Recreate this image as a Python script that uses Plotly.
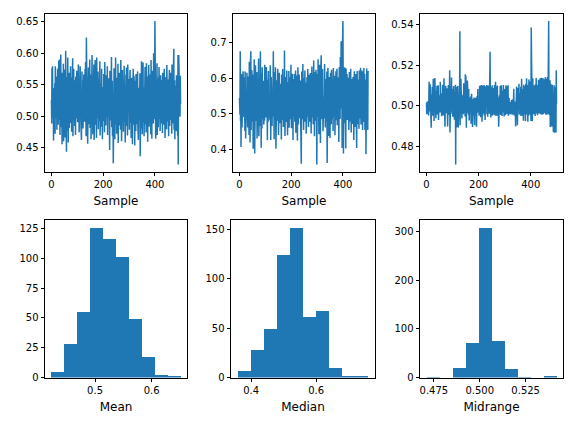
import numpy as np
import plotly.graph_objects as go

# ---- data ----
# sample means, in thousandths
mean_series = [
525, 488, 576, 502, 579, 531, 496, 544, 461, 529, 503, 538, 487, 552, 472, 579, 518, 497, 541, 509,
563, 478, 530, 517, 575, 503, 486, 549, 588, 512, 494, 590, 533, 470, 556, 521, 598, 482, 545, 508,
527, 455, 569, 514, 537, 492, 583, 460, 528, 551, 503, 574, 466, 540, 519, 604, 488, 531, 443, 562,
510, 546, 477, 593, 505, 458, 538, 521, 569, 481, 527, 498, 552, 516, 579, 489, 534, 561, 475, 522,
547, 501, 592, 468, 536, 513, 575, 493, 529, 557, 484, 519, 548, 470, 563, 507, 531, 496, 572, 515,
538, 490, 553, 526, 582, 506, 542, 474, 520, 561, 497, 579, 509, 533, 486, 547, 462, 528, 571, 504,
523, 557, 480, 539, 501, 566, 517, 548, 491, 532, 575, 499, 586, 512, 468, 625, 495, 542, 519, 561,
456, 534, 503, 577, 487, 526, 552, 510, 590, 481, 539, 517, 566, 463, 529, 545, 494, 597, 508, 523,
471, 553, 535, 499, 582, 462, 518, 544, 503, 589, 486, 531, 557, 514, 465, 593, 522, 497, 548, 511,
571, 479, 536, 504, 560, 492, 527, 587, 469, 541, 515, 550, 483, 532, 575, 500, 521, 463, 546, 509,
538, 492, 567, 517, 531, 474, 586, 506, 529, 548, 485, 520, 565, 497, 541, 512, 579, 470, 533, 551,
499, 524, 560, 488, 538, 446, 572, 513, 493, 545, 507, 534, 594, 482, 519, 556, 468, 537, 502, 425,
548, 515, 576, 490, 529, 463, 554, 508, 593, 486, 521, 543, 472, 561, 511, 535, 496, 583, 457, 526,
541, 503, 569, 485, 530, 514, 552, 478, 589, 509, 534, 460, 547, 522, 573, 496, 515, 556, 475, 538,
502, 580, 491, 527, 549, 458, 533, 518, 566, 484, 577, 506, 525, 546, 469, 582, 511, 537, 495, 559,
520, 478, 543, 507, 573, 489, 532, 551, 465, 528, 561, 500, 539, 455, 548, 517, 575, 486, 524, 564,
497, 533, 453, 556, 512, 541, 476, 567, 504, 529, 487, 552, 519, 571, 483, 536, 462, 545, 509, 558,
493, 527, 568, 436, 531, 514, 550, 480, 587, 502, 539, 471, 562, 518, 585, 490, 526, 545, 468, 533,
555, 508, 578, 487, 521, 548, 474, 584, 511, 536, 495, 563, 459, 529, 543, 506, 581, 483, 538, 517,
566, 492, 524, 551, 471, 589, 513, 535, 464, 572, 502, 541, 526, 559, 488, 600, 517, 547, 495, 575,
651, 510, 573, 464, 533, 556, 491, 528, 584, 470, 545, 519, 561, 482, 537, 507, 578, 495, 522, 550,
476, 531, 565, 503, 540, 488, 557, 514, 529, 473, 569, 498, 535, 520, 552, 486, 575, 509, 543, 465,
530, 549, 496, 562, 518, 479, 581, 505, 537, 491, 558, 512, 527, 468, 546, 500, 573, 484, 534, 517,
555, 494, 569, 510, 531, 472, 582, 506, 541, 524, 488, 560, 499, 607, 478, 536, 557, 463, 527, 548,
503, 539, 476, 565, 514, 530, 491, 552, 469, 597, 423, 521, 597, 486, 555, 512, 533, 499, 564, 519,
]

# sample medians, in thousandths
median_series = [
545, 632, 498, 676, 481, 530, 407, 562, 612, 510, 462, 543, 527, 489, 620, 534, 556, 491, 603, 503,
575, 452, 619, 529, 431, 542, 488, 560, 503, 616, 534, 497, 462, 587, 521, 605, 519, 441, 647, 498,
537, 420, 635, 508, 676, 455, 528, 493, 623, 533, 546, 479, 546, 402, 611, 510, 485, 654, 521, 389,
516, 469, 637, 531, 600, 541, 480, 618, 431, 548, 512, 483, 604, 506, 656, 437, 529, 510, 596, 466,
541, 676, 492, 530, 405, 614, 528, 459, 631, 502, 547, 486, 593, 538, 470, 522, 517, 481, 638, 528,
491, 611, 549, 490, 632, 527, 545, 518, 426, 596, 537, 478, 621, 500, 559, 522, 504, 544, 482, 637,
515, 427, 538, 604, 497, 551, 466, 526, 589, 512, 540, 676, 493, 534, 429, 618, 521, 547, 486, 631,
503, 402, 562, 523, 595, 481, 537, 516, 627, 498, 543, 441, 553, 507, 616, 529, 474, 552, 520, 585,
495, 536, 428, 611, 518, 547, 484, 626, 509, 541, 463, 527, 579, 500, 678, 514, 438, 539, 604, 492,
531, 554, 477, 622, 509, 546, 440, 537, 589, 516, 498, 621, 461, 542, 527, 603, 485, 551, 519, 638,
506, 460, 542, 523, 613, 489, 535, 427, 598, 514, 547, 493, 612, 530, 478, 541, 506, 622, 447, 533,
551, 498, 608, 520, 425, 538, 631, 507, 470, 545, 526, 611, 488, 532, 517, 594, 409, 538, 501, 360,
547, 619, 503, 529, 485, 640, 512, 543, 455, 601, 527, 498, 546, 622, 478, 532, 517, 588, 444, 539,
512, 603, 531, 492, 626, 521, 545, 463, 537, 610, 508, 549, 478, 522, 615, 497, 538, 445, 557, 519,
633, 490, 541, 526, 612, 471, 533, 650, 504, 546, 437, 529, 618, 513, 548, 481, 624, 509, 536, 358,
546, 612, 492, 530, 654, 511, 539, 443, 562, 520, 638, 497, 544, 418, 609, 528, 665, 485, 535, 517,
503, 626, 539, 451, 612, 522, 548, 488, 531, 640, 507, 543, 462, 598, 526, 515, 479, 553, 619, 362,
534, 493, 630, 518, 545, 438, 526, 604, 510, 547, 432, 532, 616, 499, 541, 471, 624, 519, 552, 486,
537, 589, 452, 629, 514, 546, 493, 531, 607, 440, 528, 549, 501, 620, 482, 539, 515, 627, 468, 543,
524, 603, 497, 552, 421, 538, 632, 510, 546, 486, 660, 529, 515, 702, 489, 703, 536, 404, 681, 545,
761, 522, 389, 548, 631, 498, 534, 474, 630, 517, 541, 403, 628, 526, 492, 549, 612, 483, 531, 520,
602, 487, 539, 455, 523, 618, 509, 546, 479, 535, 627, 501, 448, 542, 514, 598, 472, 533, 516, 604,
492, 538, 427, 551, 620, 507, 531, 463, 548, 519, 612, 486, 536, 404, 542, 621, 510, 528, 471, 597,
519, 545, 458, 622, 503, 536, 487, 551, 630, 512, 470, 541, 527, 622, 494, 538, 455, 619, 523, 506,
548, 629, 477, 533, 612, 455, 540, 515, 597, 387, 546, 502, 628, 474, 533, 519, 455, 620, 530, 617,
]

# sample midranges, in ten-thousandths
midrange_series = [
5012, 4958, 5020, 5003, 4962, 5021, 4998, 5017, 4952, 5031, 5118, 4971, 5046, 5012, 5106, 4987, 5025, 4963, 4891, 5054,
5008, 4976, 5094, 5013, 4951, 5037, 5133, 4992, 5021, 4925, 5064, 5003, 5137, 4968, 5029, 5011, 4938, 5072, 5016, 4990,
5098, 5024, 4957, 5041, 5002, 5101, 4929, 5034, 5010, 4982, 5052, 5007, 4967, 5118, 5025, 4994, 5043, 5009, 4948, 5061,
5016, 4985, 5103, 5028, 4952, 5039, 5005, 5136, 4978, 5021, 5003, 4896, 5055, 5011, 5098, 4963, 5030, 5014, 4990, 5086,
5022, 4897, 5047, 5008, 5102, 4982, 5033, 4955, 5019, 5175, 4868, 5041, 5009, 5096, 4959, 5027, 5139, 4972, 5038, 5001,
5083, 4946, 5021, 5005, 5097, 4983, 5031, 4931, 5013, 5062, 4978, 5104, 4710, 5092, 4993, 5025, 4892, 5039, 5008, 5097,
4958, 5024, 4893, 5066, 5006, 4952, 5098, 5013, 5368, 4903, 5036, 4995, 5133, 4960, 5018, 5102, 4937, 5049, 5010, 4981,
5054, 4958, 5029, 5111, 4963, 5026, 5002, 5092, 4947, 5155, 4985, 5148, 5021, 4891, 5067, 5009, 4966, 5125, 5014, 4992,
5036, 4955, 5083, 5007, 4927, 5041, 5012, 4962, 5029, 4996, 5046, 4911, 5018, 5059, 4987, 5024, 5004, 4895, 5033, 4999,
5017, 4951, 5041, 4998, 5026, 4904, 5015, 4957, 5039, 5003, 4973, 5022, 4896, 5011, 5047, 4965, 5008, 5083, 4969, 5026,
5001, 5082, 4951, 5023, 5099, 4969, 5013, 5036, 4943, 5101, 4988, 5027, 5102, 4921, 5045, 5008, 4960, 5099, 5017, 4979,
5034, 5102, 4952, 5019, 5063, 4930, 5010, 5096, 4969, 5036, 4993, 5102, 4958, 5021, 5081, 4945, 5012, 5100, 4978, 5039,
5006, 4961, 5101, 5023, 5267, 4987, 5019, 4942, 5048, 5093, 4975, 5016, 5101, 4952, 5033, 4994, 5087, 4961, 5024, 5007,
4953, 5102, 5011, 4972, 5036, 5118, 4950, 5027, 5095, 4988, 5012, 4951, 5100, 5019, 4966, 5042, 5004, 4896, 5027, 4992,
5051, 5012, 4961, 5099, 5023, 4954, 5016, 5101, 4982, 5033, 4949, 5074, 5006, 4967, 5029, 5102, 4985, 5013, 4947, 5038,
5083, 4998, 5021, 4953, 5009, 5101, 4978, 5030, 4959, 5017, 5096, 4972, 5006, 5101, 4951, 5023, 4992, 5039, 4961, 5011,
5001, 4957, 5018, 4973, 5013, 4960, 5029, 4991, 5011, 4955, 5017, 4979, 5032, 4962, 5008, 5084, 4952, 5016, 4996, 5021,
4970, 5005, 4897, 5031, 4958, 5012, 5095, 4963, 5023, 4904, 5009, 5087, 4951, 5027, 4981, 5108, 4957, 5016, 5062, 4988,
5038, 4951, 5094, 5004, 4968, 5133, 5012, 4949, 5029, 5082, 4971, 5018, 4926, 5103, 5006, 4958, 5097, 5021, 4983, 5035,
4924, 5108, 5013, 4957, 5136, 5003, 5088, 4965, 5027, 4921, 5102, 5014, 4950, 5130, 5034, 4978, 5099, 5009, 4957, 5121,
5016, 4925, 5386, 5043, 4989, 5103, 4923, 5018, 5136, 4991, 5044, 4958, 5101, 5012, 4973, 5095, 5029, 4949, 5106, 5003,
4961, 5137, 5019, 4972, 5102, 5031, 4953, 5094, 5006, 4989, 5128, 4962, 5027, 5101, 4979, 5040, 5136, 4958, 5012, 5093,
4972, 5138, 5015, 4955, 5101, 5030, 4986, 5137, 4958, 5022, 5106, 4971, 5045, 5131, 4964, 5018, 5140, 4957, 5029, 5098,
4955, 5133, 5013, 4968, 5142, 5001, 4957, 5093, 5121, 5418, 4959, 5103, 5016, 4953, 5126, 4895, 5033, 5108, 4962, 5019,
5093, 4897, 5012, 5104, 4958, 5027, 5087, 4870, 5016, 4952, 5101, 4866, 5023, 4957, 5091, 4994, 5013, 4868, 5175, 5010,
]

# histogram counts (10 bins each), read from the bottom row
mean_counts = [5, 28, 55, 126, 116, 101, 49, 17, 2, 1]
median_counts = [7, 28, 49, 124, 152, 61, 67, 10, 1, 1]
midrange_counts = [1, 0, 20, 72, 309, 76, 18, 1, 0, 3]

x_labels = ["Mean", "Median", "Midrange"]
top_label = "Sample"

series = [np.array(mean_series) / 1000.0,
          np.array(median_series) / 1000.0,
          np.array(midrange_series) / 10000.0]
counts = [mean_counts, median_counts, midrange_counts]

# ---- layout helpers ----
# the page body has an 8px margin on every side; keep the whole page 576x432
OFF = 8
W, H = 576 - 2 * OFF, 432 - 2 * OFF
BLUE = "#1f77b4"

# axes boxes in window pixels
top_x_px = [(45, 187), (233, 375), (420, 563)]
bot_x_px = [(45, 187), (231, 375), (420, 563)]
top_y_px = (14, 174)
bot_y_px = (223, 383)

top_ydtick = [0.05, 0.1, 0.02]
top_yfmt = [".2f", ".1f", ".2f"]
bot_xdtick = [0.1, 0.2, 0.025]
bot_xfmt = [".1f", ".1f", ".3f"]
bot_ydtick = [25, 50, 100]


def xdom(px):
    return [(px[0] - OFF) / W, (px[1] - OFF) / W]


def ydom(px):
    return [1 - (px[1] - OFF) / H, 1 - (px[0] - OFF) / H]


def pad(lo, hi, f=0.05):
    s = hi - lo
    return [lo - f * s, hi + f * s]


axis_common = dict(
    showline=True, mirror=True, linecolor="black", linewidth=1,
    ticks="outside", ticklen=3.5, tickwidth=1, tickcolor="black",
    showgrid=False, zeroline=False,
    tickfont=dict(family="DejaVu Sans", size=10, color="black"),
)
title_font = dict(family="DejaVu Sans", size=12, color="black")

fig = go.Figure()
layout = {}

for i in range(3):
    s = series[i]
    n = len(s)
    xa = f"x{i + 1}"
    ya = f"y{i + 1}"
    fig.add_trace(go.Scatter(
        x=np.arange(n), y=s, mode="lines",
        line=dict(color=BLUE, width=1.5),
        xaxis=xa, yaxis=ya, showlegend=False, hoverinfo="skip"))
    layout[f"xaxis{i + 1}"] = dict(
        axis_common, domain=xdom(top_x_px[i]), anchor=ya,
        range=pad(0, n - 1), tickmode="linear", tick0=0, dtick=200,
        title=dict(text=top_label, font=title_font, standoff=7))
    layout[f"yaxis{i + 1}"] = dict(
        axis_common, domain=ydom(top_y_px), anchor=xa,
        range=pad(s.min(), s.max()), tickmode="linear", tick0=0,
        dtick=top_ydtick[i], tickformat=top_yfmt[i])

    # histogram of the same series with the counts
    edges = np.linspace(s.min(), s.max(), len(counts[i]) + 1)
    centers = (edges[:-1] + edges[1:]) / 2
    widths = np.diff(edges)
    xb = f"x{i + 4}"
    yb = f"y{i + 4}"
    fig.add_trace(go.Bar(
        x=centers, y=counts[i], width=widths,
        marker=dict(color=BLUE, line=dict(width=0)),
        xaxis=xb, yaxis=yb, showlegend=False, hoverinfo="skip"))
    layout[f"xaxis{i + 4}"] = dict(
        axis_common, domain=xdom(bot_x_px[i]), anchor=yb,
        range=pad(edges[0], edges[-1]), tickmode="linear", tick0=0,
        dtick=bot_xdtick[i], tickformat=bot_xfmt[i],
        title=dict(text=x_labels[i], font=title_font, standoff=7))
    layout[f"yaxis{i + 4}"] = dict(
        axis_common, domain=ydom(bot_y_px), anchor=xb,
        range=[0, max(counts[i]) * 1.05], tickmode="linear", tick0=0,
        dtick=bot_ydtick[i])

fig.update_layout(
    width=W, height=H,
    margin=dict(l=0, r=0, t=0, b=0),
    paper_bgcolor="white", plot_bgcolor="white",
    bargap=0, showlegend=False,
    font=dict(family="DejaVu Sans", size=10, color="black"),
    **layout)

fig.write_html("out.html")
